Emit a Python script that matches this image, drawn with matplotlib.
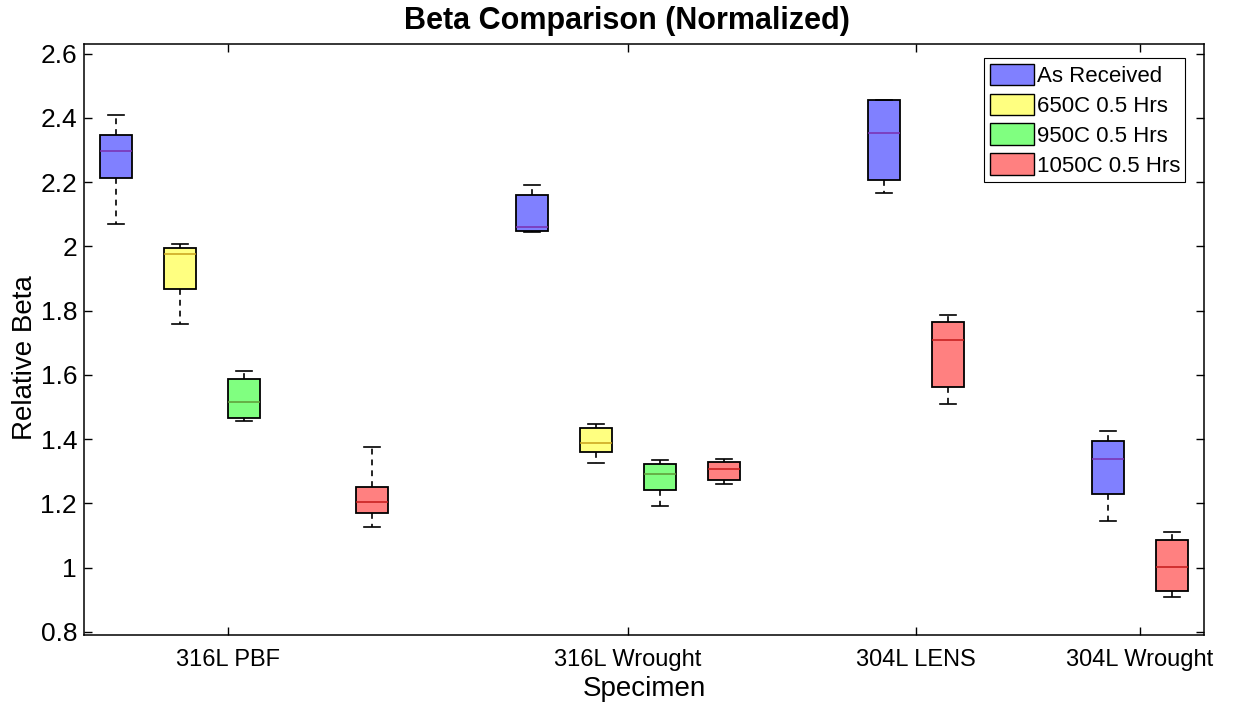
import matplotlib
matplotlib.use('Agg')
import matplotlib.pyplot as plt
from matplotlib.patches import Patch
import numpy as np

plt.rcParams['font.family'] = ['Liberation Sans', 'DejaVu Sans']

specimens = ['316L PBF', '316L Wrought', '304L LENS', '304L Wrought']
treatments = ['As Received', '650C 0.5 Hrs', '950C 0.5 Hrs', '1050C 0.5 Hrs']
fill_colors = ['#8080ff', '#ffff80', '#80ff80', '#ff8080']
median_colors = ['#7a2fb0', '#c9a21c', '#5f9a36', '#c41a1a']

# one entry per box
box_pos = [1, 2, 3, 5, 7.5, 8.5, 9.5, 10.5, 13, 14, 16.5, 17.5]
box_spec = [0, 0, 0, 0, 1, 1, 1, 1, 2, 2, 3, 3]
box_treat = [0, 1, 2, 3, 0, 1, 2, 3, 0, 3, 0, 3]
whis_lo = [2.071, 1.758, 1.455, 1.127, 2.045, 1.326, 1.192, 1.259, 2.165, 1.510, 1.145, 0.908]
q1 = [2.213, 1.868, 1.464, 1.169, 2.049, 1.360, 1.241, 1.273, 2.206, 1.562, 1.230, 0.926]
med = [2.296, 1.976, 1.516, 1.203, 2.060, 1.388, 1.291, 1.306, 2.353, 1.709, 1.338, 1.001]
q3 = [2.348, 1.995, 1.587, 1.251, 2.161, 1.434, 1.323, 1.329, 2.457, 1.764, 1.393, 1.085]
whis_hi = [2.408, 2.008, 1.613, 1.374, 2.192, 1.448, 1.335, 1.338, 2.457, 1.786, 1.426, 1.112]

stats = []
for i in range(len(box_pos)):
    stats.append(dict(whislo=whis_lo[i], q1=q1[i], med=med[i], q3=q3[i],
                      whishi=whis_hi[i], fliers=[]))

fig = plt.figure(figsize=(12.38, 7.15), dpi=100)
ax = fig.add_axes([0.0679, 0.1119, 0.9046, 0.8266])

bp = ax.bxp(stats, positions=box_pos, widths=0.5, capwidths=0.25,
            patch_artist=True, showfliers=False,
            boxprops=dict(edgecolor='black', linewidth=1.3),
            whiskerprops=dict(color='black', linewidth=1.2, linestyle=(0, (3.5, 3))),
            capprops=dict(color='black', linewidth=1.2),
            medianprops=dict(linewidth=1.1))

for i, box in enumerate(bp['boxes']):
    box.set_facecolor(fill_colors[box_treat[i]])
for i, line in enumerate(bp['medians']):
    line.set_color(median_colors[box_treat[i]])

# specimen ticks sit at the mean position of each group
tick_pos = [np.mean([p for p, s in zip(box_pos, box_spec) if s == k])
            for k in range(len(specimens))]
ax.set_xticks(tick_pos)
ax.set_xticklabels(specimens, fontsize=17)
ax.set_xlim(0.5, 18)
ax.set_ylim(0.79, 2.63)
ax.set_yticks(np.arange(0.8, 2.61, 0.2))
ax.set_yticklabels(['0.8', '1', '1.2', '1.4', '1.6', '1.8', '2', '2.2', '2.4', '2.6'], fontsize=19)

ax.tick_params(direction='in', top=True, right=True, length=6, width=1)
ax.tick_params(axis='x', pad=10)
ax.tick_params(axis='y', pad=5)
for sp in ax.spines.values():
    sp.set_linewidth(1.1)

ax.set_title('Beta Comparison (Normalized)', fontsize=22, fontweight='bold', pad=11)
ax.title.set_x(0.485)
ax.set_xlabel('Specimen', fontsize=20, labelpad=4)
ax.set_ylabel('Relative Beta', fontsize=20)
ax.yaxis.set_label_coords(-0.041, 0.47)

handles = [Patch(facecolor=c, edgecolor='black', linewidth=1.0) for c in fill_colors]
leg = ax.legend(handles, treatments, loc='upper right', fontsize=16,
                bbox_to_anchor=(0.9835, 0.976), fancybox=False, framealpha=1,
                edgecolor='black', borderpad=0.25, labelspacing=0.3,
                handlelength=2.0, handleheight=1.1, handletextpad=0.1,
                borderaxespad=0)
leg.get_frame().set_linewidth(0.8)

fig.savefig('out.png', dpi=100)
